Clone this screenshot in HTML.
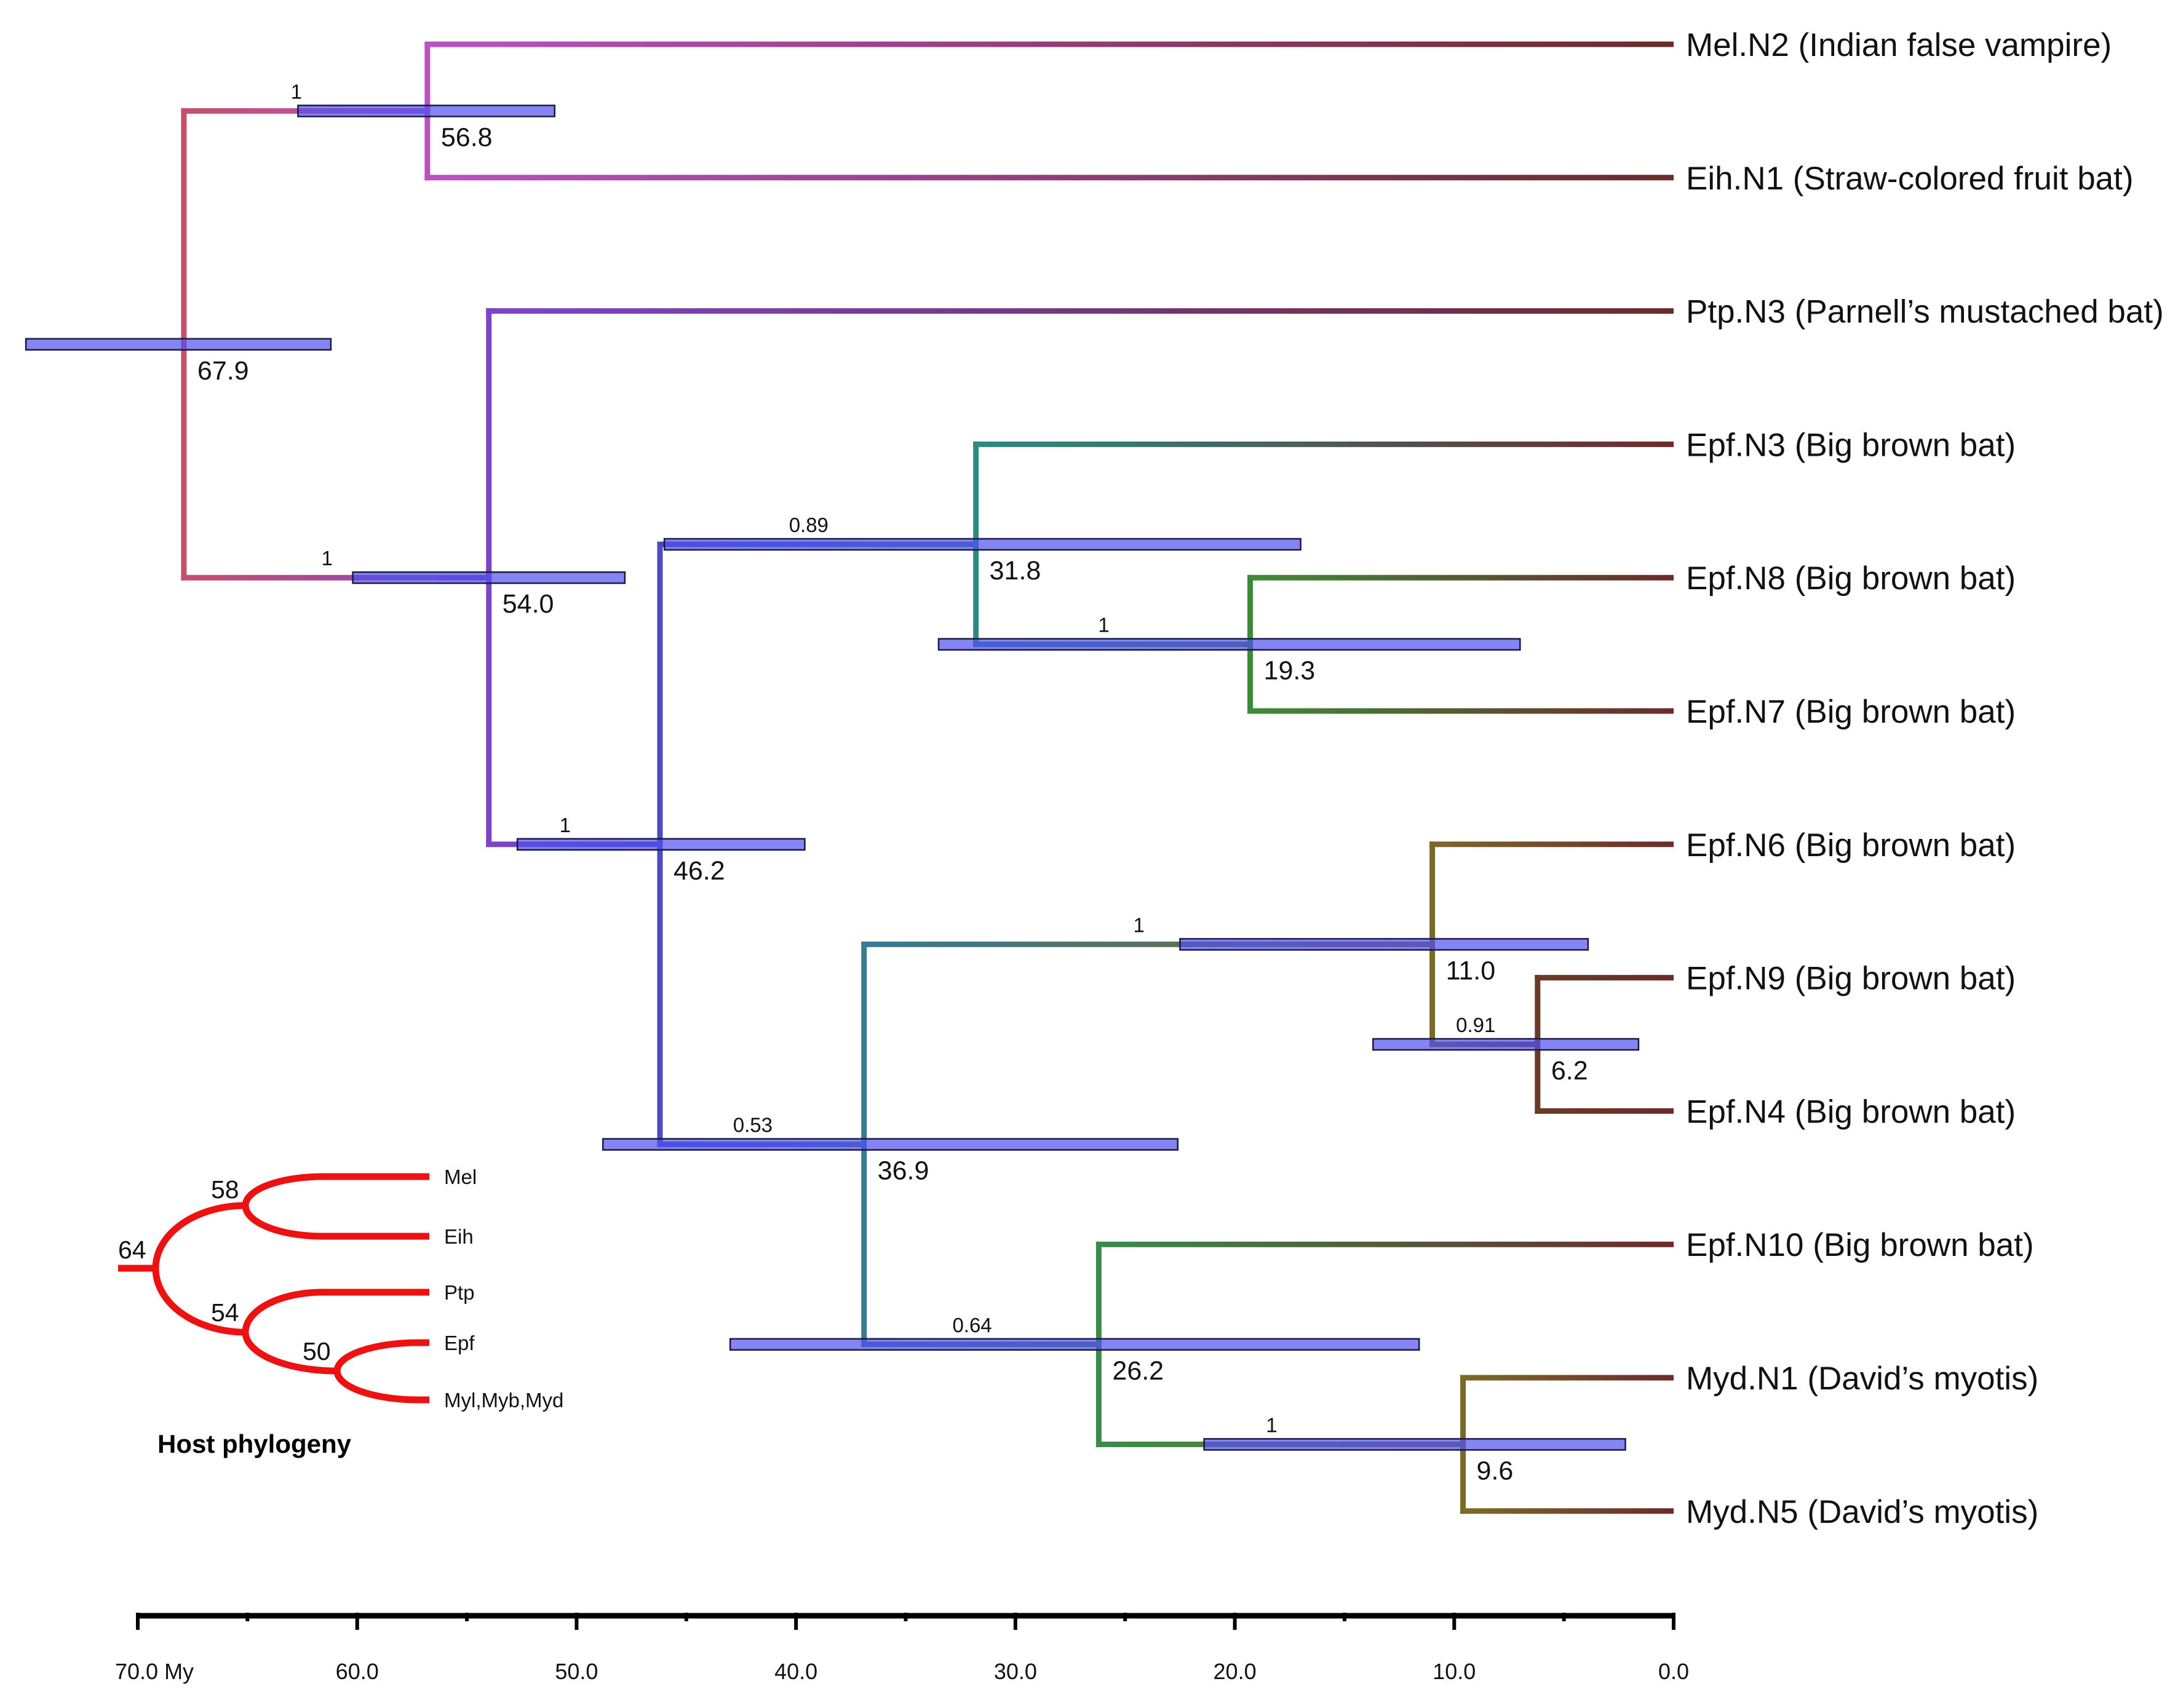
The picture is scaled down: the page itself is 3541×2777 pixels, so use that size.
<!DOCTYPE html>
<html><head><meta charset="utf-8"><style>
html,body{margin:0;padding:0;background:#fff;}
svg{display:block;font-family:"Liberation Sans",Arial,sans-serif;}
</style></head><body>
<svg id="chart" width="3541" height="2777" viewBox="0 0 3541 2777" xmlns="http://www.w3.org/2000/svg">
<defs id="defs"></defs>
<g id="branches"></g>
<g id="bars"></g>
<g id="labels"></g>
<g id="axis"></g>
<g id="host"></g>
</svg>
<script>
// ---- data ----
const tipNames = ["Mel.N2 (Indian false vampire)","Eih.N1 (Straw-colored fruit bat)","Ptp.N3 (Parnell\u2019s mustached bat)","Epf.N3 (Big brown bat)","Epf.N8 (Big brown bat)","Epf.N7 (Big brown bat)","Epf.N6 (Big brown bat)","Epf.N9 (Big brown bat)","Epf.N4 (Big brown bat)","Epf.N10 (Big brown bat)","Myd.N1 (David\u2019s myotis)","Myd.N5 (David\u2019s myotis)"];
const nodeIds   = ["root","n568","n540","n462","n318","n193","n369","n110","n62","n262","n96"];
const nodeKids  = [["n568","n540"],["t0","t1"],["t2","n462"],["n318","n369"],["t3","n193"],["t4","t5"],["n110","n262"],["t6","n62"],["t7","t8"],["t9","n96"],["t10","t11"]];
const nodeAges  = [67.9,56.8,54.0,46.2,31.8,19.3,36.9,11.0,6.2,26.2,9.6];
const hpdLow    = [61.2,51.0,47.8,39.6,17.0,7.0,22.6,3.9,1.6,11.6,2.2];
const hpdHigh   = [75.1,62.7,60.2,52.7,46.0,33.5,48.8,22.5,13.7,43.0,21.4];
const posterior = ["","1","1","1","0.89","1","0.53","1","0.91","0.64","1"];
const nodeColors= ["#c64f6c","#bb50c4","#7c45c8","#4a4cc0","#2e8a82","#3f8a3a","#3a7a95","#7a6a2a","#6b3a25","#3a8a4a","#7a6a2a"];
const tipColor = "#6b2b2b";
const axisTicks = [70,60,50,40,30,20,10,0];
const axisTickLabels = ["70.0 My","60.0","50.0","40.0","30.0","20.0","10.0","0.0"];
const hostTips = ["Mel","Eih","Ptp","Epf","Myl,Myb,Myd"];
const hostNodeLabels = ["64","58","54","50"];

// ---- scales ----
const NS="http://www.w3.org/2000/svg";
const xOf = a => 2721 - a*(2497/70);
const tipY = i => 72 + i*216.8;
function mk(tag, attrs, parent){const e=document.createElementNS(NS,tag);for(const k in attrs)e.setAttribute(k,attrs[k]);parent.appendChild(e);return e;}
const gB=document.getElementById('branches'),gBar=document.getElementById('bars'),gL=document.getElementById('labels'),gA=document.getElementById('axis'),gH=document.getElementById('host'),defs=document.getElementById('defs');

const nodeIdx={};nodeIds.forEach((id,i)=>nodeIdx[id]=i);
const yCache={};
function yOf(ref){ if(ref[0]==='t') return tipY(+ref.slice(1)); if(yCache[ref]!==undefined) return yCache[ref];
  const k=nodeKids[nodeIdx[ref]]; const y=(yOf(k[0])+yOf(k[1]))/2; yCache[ref]=y; return y;}
function xRef(ref){return ref[0]==='t'?xOf(0):xOf(nodeAges[nodeIdx[ref]]);}
function colRef(ref){return ref[0]==='t'?tipColor:nodeColors[nodeIdx[ref]];}
let gid=0;
const parentOf={};
nodeIds.forEach((id,i)=>{
  const px=xOf(nodeAges[i]);
  const ys=nodeKids[i].map(yOf);
  const v=mk('line',{x1:px,x2:px,y1:ys[0]-4.5,y2:ys[1]+4.5,stroke:nodeColors[i],'stroke-width':9},gB);
  
  
  nodeKids[i].forEach(k=>{
    parentOf[k]=id;
    const cx=xRef(k),cy=yOf(k);
    const g=mk('linearGradient',{id:'g'+gid,gradientUnits:'userSpaceOnUse',x1:px,y1:0,x2:cx,y2:0},defs);
    mk('stop',{offset:'0',"stop-color":nodeColors[i]},g);mk('stop',{offset:'1',"stop-color":colRef(k)},g);
    const h=mk('line',{x1:px-4.5,x2:cx,y1:cy,y2:cy,stroke:'url(#g'+gid+')','stroke-width':9},gB);
    
    
    gid++;
  });
});
nodeIds.forEach((id,i)=>{
  const y=yOf(id);
  const r=mk('rect',{x:xOf(hpdHigh[i]),y:y-9,width:xOf(hpdLow[i])-xOf(hpdHigh[i]),height:18,fill:'#5050ee','fill-opacity':0.7,stroke:'#1a1a40','stroke-width':2.5},gBar);
  
  
  const t=mk('text',{x:xOf(nodeAges[i])+22,y:y+57,'font-size':43,fill:'#111'},gL);
  t.textContent=nodeAges[i].toFixed(1);
  
  
  if(posterior[i]){
    const p=parentOf[id];
    const mx=(xOf(nodeAges[nodeIdx[p]])+xOf(nodeAges[i]))/2-15;
    const pt=mk('text',{x:mx,y:y-20,'font-size':33,'text-anchor':'middle',fill:'#111'},gL);
    pt.textContent=posterior[i];
    
    
  }
});
tipNames.forEach((n,i)=>{
  const t=mk('text',{x:2741,y:tipY(i)+19,'font-size':53,fill:'#111'},gL);
  t.textContent=n;
  
  
});
// axis
const ax=mk('line',{x1:xOf(70),x2:xOf(0)+3,y1:2627,y2:2627,stroke:'#000','stroke-width':9},gA);


for(let a=0;a<=70;a+=5){
  const major=a%10===0;
  const tk=mk('line',{x1:xOf(a),x2:xOf(a),y1:2622,y2:major?2650:2636,stroke:'#000','stroke-width':6},gA);
  
  
}
axisTicks.forEach((a,i)=>{
  const first=i===0;
  const t=mk('text',{x:first?187:xOf(a),y:2730,'font-size':36,'text-anchor':first?'start':'middle',fill:'#111'},gA);
  t.textContent=axisTickLabels[i];
  
  
});
// host phylogeny inset
const hTipY=[1913,2010,2101,2183,2276], hTipX=698;
const hN={n64:[253,2062],n58:[399,1960],n54:[399,2166],n50:[548,2229]};
const st={fill:'none',stroke:'#ee1111','stroke-width':11};
function arc(p,ex,ey){const up=ey<p[1];return `M${p[0]},${p[1]} A${ex-p[0]},${Math.abs(ey-p[1])} 0 0 ${up?1:0} ${ex},${ey}`;}
const hp=[
 `M192,2062 L253,2062`,
 arc(hN.n64,399,1960), arc(hN.n64,399,2166),
 arc(hN.n58,524,hTipY[0])+` L${hTipX},${hTipY[0]}`, arc(hN.n58,524,hTipY[1])+` L${hTipX},${hTipY[1]}`,
 arc(hN.n54,524,hTipY[2])+` L${hTipX},${hTipY[2]}`, arc(hN.n54,548,2229),
 arc(hN.n50,680,hTipY[3])+` L${hTipX},${hTipY[3]}`, arc(hN.n50,680,hTipY[4])+` L${hTipX},${hTipY[4]}`
];
hp.forEach(d=>{const p=mk('path',Object.assign({d},st),gH);
  
  });
hostTips.forEach((n,i)=>{const t=mk('text',{x:722,y:hTipY[i]+12,'font-size':33,fill:'#111'},gH);t.textContent=n;
  
  });
const hl=[[217,2046],[368,1948],[368,2148],[517,2211]];
hostNodeLabels.forEach((n,i)=>{const t=mk('text',{x:hl[i][0]-25,y:hl[i][1],'font-size':41,fill:'#111'},gH);t.textContent=n;
  
  });
const ht=mk('text',{x:256,y:2362,'font-size':42,'font-weight':'bold',fill:'#000'},gH);
ht.textContent='Host phylogeny';


</script>
</body></html>
